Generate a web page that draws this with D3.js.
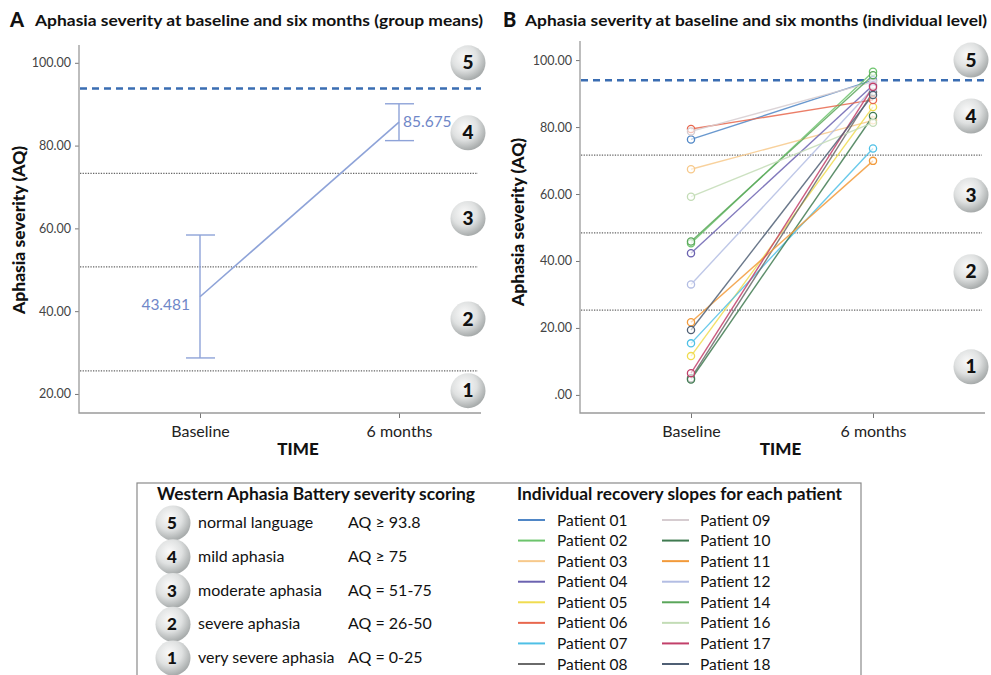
<!DOCTYPE html>
<html>
<head>
<meta charset="utf-8">
<script src="https://cdn.jsdelivr.net/npm/d3@7"></script>
<style>
  body { margin: 0; background: #fff; }
  svg { display: block; font-family: Lato, "Open Sans", sans-serif; }
</style>
</head>
<body>
<svg id="chart" width="991" height="675"></svg>
<script>
// ---- data ----
var times = ["Baseline", "6 months"];
var groupMeans = [43.481, 85.675];
var groupLow = [28.7, 81.2];
var groupHigh = [58.4, 90.1];

var patients = ["Patient 01", "Patient 02", "Patient 03", "Patient 04", "Patient 05", "Patient 06",
                "Patient 07", "Patient 08", "Patient 09", "Patient 10", "Patient 11", "Patient 12",
                "Patient 14", "Patient 16", "Patient 17", "Patient 18"];
var baselineAQ = [76.3, 45.3, 67.4, 42.3, 11.6, 79.4, 15.4, 5.0, 78.7, 4.6, 21.7, 33.0, 45.8, 59.2, 6.5, 19.4];
var sixMonthAQ = [94.0, 96.5, 82.0, 92.5, 86.0, 88.1, 73.6, 90.5, 93.5, 83.3, 69.9, 91.5, 95.5, 81.3, 92.0, 89.6];
var patientColors = ["#4f86c6", "#6cc46c", "#f7c98b", "#6b62b0", "#f0dc50", "#e8674e",
                     "#4fc0e6", "#6a6a6a", "#d6ccd0", "#3f7a50", "#f29a3a", "#b3bde3",
                     "#5aa65a", "#c3dcb6", "#c2406a", "#4f5f74"];

var normalCut = [93.8, 94.0];          // panel A, panel B
var cutsA = [73.3, 50.7, 25.6];
var cutsB = [71.6, 48.4, 25.3];
var ticksA = [20, 40, 60, 80, 100];
var ticksB = [0, 20, 40, 60, 80, 100];
var badgeLevels = ["5", "4", "3", "2", "1"];
var badgeAtA = [100, 83.1, 62.4, 38.1, 20.8];
var badgeAtB = [100, 83.3, 59.7, 36.8, 8.4];

var severityNames = ["normal language", "mild aphasia", "moderate aphasia", "severe aphasia", "very severe aphasia"];
var severityRanges = ["AQ \u2265 93.8", "AQ \u2265 75", "AQ = 51-75", "AQ = 26-50", "AQ = 0-25"];

var svg = d3.select("#chart");

// badge gradient
var defs = svg.append("defs");
var grad = defs.append("radialGradient").attr("id", "badge").attr("cx", "40%").attr("cy", "35%").attr("r", "65%");
grad.append("stop").attr("offset", "0%").attr("stop-color", "#fafafa");
grad.append("stop").attr("offset", "55%").attr("stop-color", "#dfe1e1");
grad.append("stop").attr("offset", "100%").attr("stop-color", "#a8acac");

function badge(g, x, y, label, size) {
  g.append("circle").attr("cx", x).attr("cy", y).attr("r", 17.5).attr("fill", "url(#badge)");
  g.append("text").attr("x", x).attr("y", y + 6.5).attr("text-anchor", "middle")
    .attr("font-size", size).attr("font-weight", 900).attr("fill", "#111").text(label);
}

function panel(o) {
  var g = svg.append("g");
  var y = d3.scaleLinear().domain(o.ydom).range([413, o.top]);
  var x = d3.scalePoint().domain(times).range(o.xr);

  g.append("text").attr("x", o.letterX).attr("y", 27).attr("font-size", 20).attr("font-weight", 900)
    .attr("fill", "#111").text(o.letter);
  g.append("text").attr("x", o.titleX).attr("y", 26).attr("font-size", 16).attr("font-weight", 700)
    .attr("fill", "#111").attr("textLength", o.titleLen).attr("lengthAdjust", "spacingAndGlyphs").text(o.title);

  // severity cut lines
  g.selectAll(".cut").data(o.cuts).enter().append("line")
    .attr("x1", o.x0 + 1).attr("x2", o.x1 - 3)
    .attr("y1", function(d){ return y(d); }).attr("y2", function(d){ return y(d); })
    .attr("stroke", "#666").attr("stroke-width", 1.3).attr("stroke-dasharray", "1.3,1.3");
  g.append("line").attr("x1", o.x0 + 1).attr("x2", o.x1)
    .attr("y1", y(o.normal)).attr("y2", y(o.normal))
    .attr("stroke", "#3a6db2").attr("stroke-width", 2.6).attr("stroke-dasharray", "7,5");

  // axes
  var ya = g.append("g").attr("transform", "translate(" + o.x0 + ",0)")
    .call(d3.axisLeft(y).tickValues(o.ticks).tickSize(4).tickSizeOuter(0)
      .tickFormat(function(d){ return d === 0 ? ".00" : d3.format(".2f")(d); }));
  ya.select(".domain").remove();
  var xa = g.append("g").attr("transform", "translate(0,413)")
    .call(d3.axisBottom(x).tickSize(5).tickSizeOuter(0));
  xa.select(".domain").remove();
  g.append("path").attr("d", "M" + o.x0 + "," + o.top + "V413H" + o.x1)
    .attr("fill", "none").attr("stroke", "#9a9a9a").attr("stroke-width", 1.3);
  [ya, xa].forEach(function(a){
    a.selectAll(".tick line").attr("stroke", "#777");
    a.selectAll(".tick text").attr("fill", "#444").attr("font-family", "Lato, sans-serif");
  });
  ya.selectAll(".tick text").attr("font-size", 12.5).attr("dx", "-1");
  xa.selectAll(".tick text").attr("font-size", 16).attr("fill", "#222").attr("dy", "1.0em");

  g.append("text").attr("x", (o.x0 + o.x1) / 2 + o.timeDx).attr("y", 455).attr("text-anchor", "middle")
    .attr("font-size", 17).attr("font-weight", 900).attr("fill", "#111").text("TIME");
  g.append("text").attr("transform", "translate(" + o.ylabX + "," + o.ylabY + ") rotate(-90)")
    .attr("text-anchor", "middle").attr("font-size", 16.5).attr("font-weight", 900).attr("fill", "#111")
    .attr("textLength", 168).attr("lengthAdjust", "spacingAndGlyphs")
    .text("Aphasia severity (AQ)");

  o.badges.forEach(function(v, i){ badge(g, o.badgeX, y(v), badgeLevels[i], 19); });
  return { g: g, x: x, y: y };
}

// ---- panel A ----
var A = panel({ letter: "A", letterX: 10, titleX: 35, title: "Aphasia severity at baseline and six months (group means)", titleLen: 448,
  ydom: [15.4, 104.3], top: 45, xr: [200, 399], x0: 79, x1: 481, cuts: cutsA, normal: normalCut[0],
  ticks: ticksA, badges: badgeAtA, badgeX: 468, timeDx: 18, ylabX: 25, ylabY: 230 });

var meanColor = "#8ea3d8";
A.g.append("path").datum(groupMeans)
  .attr("d", d3.line().x(function(d, i){ return A.x(times[i]); }).y(function(d){ return A.y(d); }))
  .attr("fill", "none").attr("stroke", meanColor).attr("stroke-width", 1.6);
times.forEach(function(t, i){
  var cx = A.x(t);
  A.g.append("line").attr("x1", cx).attr("x2", cx).attr("y1", A.y(groupLow[i])).attr("y2", A.y(groupHigh[i]))
    .attr("stroke", meanColor).attr("stroke-width", 1.4);
  [groupLow[i], groupHigh[i]].forEach(function(v){
    A.g.append("line").attr("x1", cx - 14).attr("x2", cx + 15).attr("y1", A.y(v)).attr("y2", A.y(v))
      .attr("stroke", meanColor).attr("stroke-width", 1.4);
  });
});
A.g.append("text").attr("x", A.x(times[0]) - 10).attr("y", A.y(groupMeans[0]) + 13).attr("text-anchor", "end")
  .attr("font-size", 15.5).attr("fill", "#6f87c8").text(d3.format(".3f")(groupMeans[0]));
A.g.append("text").attr("x", A.x(times[1]) + 4).attr("y", A.y(groupMeans[1]) + 5)
  .attr("font-size", 15.5).attr("fill", "#6f87c8").text(d3.format(".3f")(groupMeans[1]));

// ---- panel B ----
var B = panel({ letter: "B", letterX: 503, titleX: 525, title: "Aphasia severity at baseline and six months (individual level)", titleLen: 462,
  ydom: [-5.4, 105.7], top: 41, xr: [691, 873], x0: 580, x1: 985, cuts: cutsB, normal: normalCut[1],
  ticks: ticksB, badges: badgeAtB, badgeX: 971, timeDx: -2, ylabX: 524, ylabY: 222 });

var rows = patients.map(function(p, i){ return { name: p, v: [baselineAQ[i], sixMonthAQ[i]], color: patientColors[i] }; });
B.g.selectAll(".slope").data(rows).enter().append("path")
  .attr("d", function(d){ return d3.line().x(function(v, i){ return B.x(times[i]); }).y(function(v){ return B.y(v); })(d.v); })
  .attr("fill", "none").attr("stroke", function(d){ return d.color; }).attr("stroke-width", 1.4).attr("stroke-opacity", 0.85);
rows.forEach(function(d){
  d.v.forEach(function(v, i){
    B.g.append("circle").attr("cx", B.x(times[i])).attr("cy", B.y(v)).attr("r", 3.6)
      .attr("fill", "#fff").attr("fill-opacity", 0.6).attr("stroke", d.color).attr("stroke-width", 1.3);
  });
});

// ---- legend box ----
var L = svg.append("g");
L.append("rect").attr("x", 137).attr("y", 483).attr("width", 724).attr("height", 200)
  .attr("fill", "#fff").attr("stroke", "#8a8a8a").attr("stroke-width", 1.2);
L.append("text").attr("x", 157).attr("y", 500).attr("font-size", 16.5).attr("font-weight", 700).attr("fill", "#111")
  .attr("textLength", 318).attr("lengthAdjust", "spacingAndGlyphs")
  .text("Western Aphasia Battery severity scoring");
var rowY = d3.scalePoint().domain(badgeLevels).range([523, 658]);
badgeLevels.forEach(function(k, i){
  var cy = rowY(k);
  L.append("circle").attr("cx", 173).attr("cy", cy).attr("r", 17.5).attr("fill", "url(#badge)");
  L.append("text").attr("x", 172).attr("y", cy + 6).attr("text-anchor", "middle").attr("font-size", 17)
    .attr("font-weight", 900).attr("fill", "#111").text(k);
  L.append("text").attr("x", 198).attr("y", cy + 5).attr("font-size", 16).attr("fill", "#111").text(severityNames[i]);
  L.append("text").attr("x", 348).attr("y", cy + 5).attr("font-size", 16).attr("fill", "#111").text(severityRanges[i]);
});

L.append("text").attr("x", 517).attr("y", 500).attr("font-size", 16.5).attr("font-weight", 700).attr("fill", "#111")
  .attr("textLength", 325).attr("lengthAdjust", "spacingAndGlyphs")
  .text("Individual recovery slopes for each patient");
var legY = d3.scaleLinear().domain([0, 7]).range([520, 664]);
rows.forEach(function(d, i){
  var col = i < 8 ? 0 : 1, r = i % 8;
  var lx = col === 0 ? 518 : 662, tx = col === 0 ? 557 : 700;
  L.append("line").attr("x1", lx).attr("x2", lx + 27).attr("y1", legY(r)).attr("y2", legY(r))
    .attr("stroke", d.color).attr("stroke-width", 2);
  L.append("text").attr("x", tx).attr("y", legY(r) + 5.5).attr("font-size", 15.5).attr("fill", "#111").text(d.name);
});
</script>
</body>
</html>
